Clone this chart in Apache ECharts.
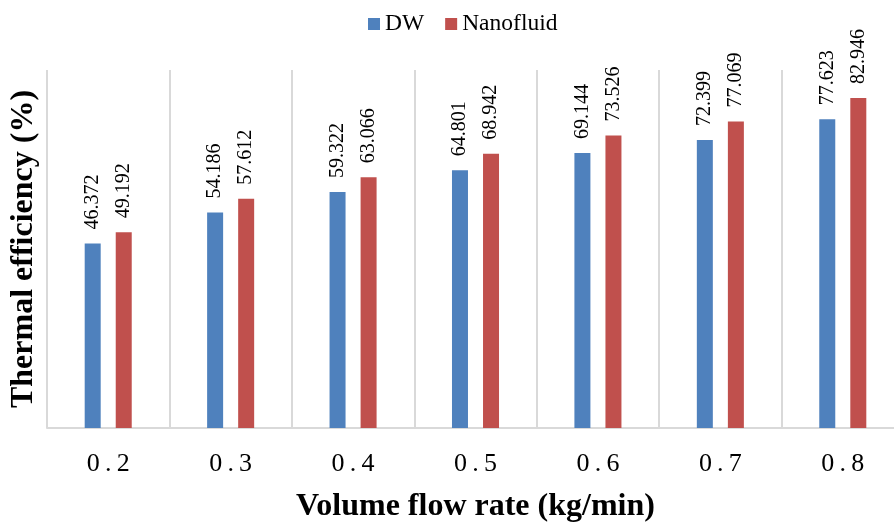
<!DOCTYPE html>
<html>
<head>
<meta charset="utf-8">
<script src="https://cdn.jsdelivr.net/npm/echarts@6/dist/echarts.min.js"></script>
<style>
  html, body { margin: 0; padding: 0; background: #fff; overflow: hidden; }
  #container { width: 894px; height: 526px; }
</style>
</head>
<body>
<div id="container"></div>
<script>
var categories = ['0.2', '0.3', '0.4', '0.5', '0.6', '0.7', '0.8'];
var dwValues = [46.372, 54.186, 59.322, 64.801, 69.144, 72.399, 77.623];
var nanoValues = [49.192, 57.612, 63.066, 68.942, 73.526, 77.069, 82.946];

var serif = '"Liberation Serif", "Times New Roman", serif';

var myChart = echarts.init(document.getElementById('container'));

// etiquetas verticales encima de cada barra
var barLabel = {
    show: true,
    position: 'top',
    rotate: 90,
    align: 'left',
    verticalAlign: 'middle',
    distance: 14,
    fontFamily: serif,
    fontSize: 20,
    color: '#000',
    formatter: function (p) { return p.value.toFixed(3); }
};

var option = {
    animation: false,
    legend: {
        top: 7,
        left: 363,
        itemWidth: 12,
        itemHeight: 12,
        itemGap: 21,
        icon: 'rect',
        textStyle: { fontFamily: serif, fontSize: 23.5, color: '#000' },
        data: ['DW', 'Nanofluid']
    },
    // la rejilla sigue más allá del borde derecho, como en el original
    grid: { left: 47, top: 70, width: 857, height: 358, outerBoundsMode: 'none', containLabel: false },
    xAxis: {
        type: 'category',
        data: categories,
        name: 'Volume flow rate (kg/min)',
        nameLocation: 'middle',
        nameGap: 63,
        nameTextStyle: { fontFamily: serif, fontSize: 32, fontWeight: 'bold', color: '#000' },
        axisLine: { lineStyle: { color: '#d9d9d9', width: 2 } },
        axisTick: { show: false },
        axisLabel: {
            fontFamily: serif, fontSize: 26, color: '#000', margin: 23,
            formatter: function (v) { return v.split('').join('\u2009'); }
        },
        splitLine: { show: true, lineStyle: { color: '#d9d9d9', width: 2 } }
    },
    yAxis: {
        type: 'value',
        min: 0,
        max: 90,
        name: 'Thermal efficiency (%)',
        nameLocation: 'middle',
        nameGap: 7,
        nameTextStyle: { fontFamily: serif, fontSize: 32, fontWeight: 'bold', color: '#000' },
        axisLine: { show: false },
        axisTick: { show: false },
        axisLabel: { show: false },
        splitLine: { show: false }
    },
    series: [
        {
            name: 'DW',
            type: 'bar',
            data: dwValues,
            barWidth: 16,
            barGap: '94%',
            itemStyle: { color: '#4f81bd' },
            label: barLabel
        },
        {
            name: 'Nanofluid',
            type: 'bar',
            data: nanoValues,
            barWidth: 16,
            itemStyle: { color: '#c0504d' },
            label: barLabel
        }
    ]
};

myChart.setOption(option);
window.addEventListener('resize', myChart.resize);
</script>
</body>
</html>
